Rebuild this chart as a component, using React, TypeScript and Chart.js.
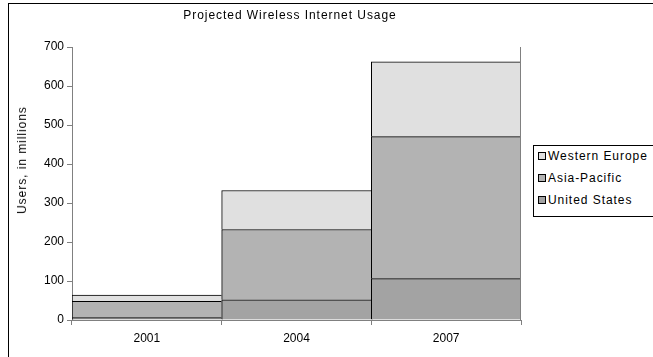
import React, { useEffect, useRef } from "react";
import { Chart, registerables } from "chart.js";

Chart.register(...registerables);

const categories = ["2001", "2004", "2007"];
const unitedStates = [6, 52, 106];
const asiaPacific = [42, 180, 364];
const westernEurope = [16, 100, 192];
const yTicks = [0, 100, 200, 300, 400, 500, 600, 700];

const seriesNames = ["United States", "Asia-Pacific", "Western Europe"];
const seriesColors = ["#a3a3a3", "#b3b3b3", "#e0e0e0"];
const chartTitle = "Projected Wireless Internet Usage";
const yTitle = "Users, in millions";

const FONT = "'Liberation Sans', Arial, sans-serif";

const rightLine = {
  id: "rightLine",
  afterDraw(chart: any) {
    const { ctx, chartArea } = chart;
    ctx.save();
    ctx.strokeStyle = "#808080";
    ctx.lineWidth = 1;
    ctx.beginPath();
    ctx.moveTo(Math.round(chartArea.right) - 0.5, chartArea.top);
    ctx.lineTo(Math.round(chartArea.right) - 0.5, chartArea.bottom);
    ctx.stroke();
    ctx.restore();
  },
};

export default function App() {
  const ref = useRef<HTMLCanvasElement>(null);
  useEffect(() => {
    if (!ref.current) return;
    const values = [unitedStates, asiaPacific, westernEurope];
    const chart = new Chart(ref.current, {
      type: "bar",
      data: {
        labels: categories,
        datasets: values.map((v, i) => ({
          label: seriesNames[i],
          data: v,
          backgroundColor: seriesColors[i],
          borderColor: "#000000",
          borderWidth: { top: 1, left: 1, right: 0, bottom: 0 },
          borderSkipped: false,
          barPercentage: 1,
          categoryPercentage: 1,
        })),
      },
      options: {
        animation: false,
        responsive: false,
        devicePixelRatio: 1,
        layout: { padding: { left: 0, right: 132, top: 47, bottom: 0 } },
        plugins: {
          legend: { display: false },
          tooltip: { enabled: false },
          title: { display: false },
        },
        scales: {
          x: {
            stacked: true,
            afterFit: (s: any) => {
              s.height = 37;
            },
            grid: {
              display: true,
              drawOnChartArea: false,
              tickLength: 5,
              color: "#808080",
              offset: true,
            },
            border: { color: "#808080" },
            ticks: { color: "#000", font: { family: FONT, size: 12 }, padding: 6 },
          },
          y: {
            stacked: true,
            min: 0,
            max: 700,
            afterFit: (s: any) => {
              s.width = 72;
            },
            afterBuildTicks: (s: any) => {
              s.ticks = yTicks.map((v) => ({ value: v }));
            },
            grid: {
              display: true,
              drawOnChartArea: false,
              tickLength: 5,
              color: "#808080",
            },
            border: { color: "#808080" },
            ticks: { color: "#000", font: { family: FONT, size: 12 }, padding: 3 },
          },
        },
      },
      plugins: [rightLine],
    });
    return () => chart.destroy();
  }, []);

  const legendOrder = [2, 1, 0];
  const textStyle = { fontFamily: FONT, fontSize: 12, color: "#000", letterSpacing: "0.95px", whiteSpace: "nowrap" as const };
  return (
    <div style={{ position: "absolute", left: 0, top: 0, width: 653, height: 357, overflow: "hidden", background: "#fff" }}>
      <div
        style={{
          position: "absolute",
          left: 8,
          top: 3,
          width: 700,
          height: 400,
          borderLeft: "1px solid #000",
          borderTop: "1px solid #000",
        }}
      />
      <canvas ref={ref} width={653} height={357} style={{ position: "absolute", left: 0, top: 0, width: 653, height: 357 }} />
      <div
        style={{
          ...textStyle,
          position: "absolute",
          left: 290,
          top: 15,
          transform: "translate(-50%, -50%)",
          lineHeight: "14px",
        }}
      >
        {chartTitle}
      </div>
      <div
        style={{
          ...textStyle,
          position: "absolute",
          left: 22,
          top: 160,
          transform: "translate(-50%, -50%) rotate(-90deg)",
          lineHeight: "14px",
        }}
      >
        {yTitle}
      </div>
      <div
        style={{
          position: "absolute",
          left: 533,
          top: 145,
          width: 130,
          height: 72,
          border: "1px solid #000",
          background: "#fff",
          boxSizing: "border-box",
        }}
      >
        <div style={{ position: "absolute", left: 0, top: -1 }}>
          {legendOrder.map((i) => (
            <div key={i} style={{ ...textStyle, display: "flex", alignItems: "center", height: 22, paddingLeft: 4 }}>
              <span
                style={{
                  display: "inline-block",
                  width: 6,
                  height: 6,
                  background: seriesColors[i],
                  border: "1px solid #000",
                  marginRight: 2,
                }}
              />
              <span>{seriesNames[i]}</span>
            </div>
          ))}
        </div>
      </div>
    </div>
  );
}
